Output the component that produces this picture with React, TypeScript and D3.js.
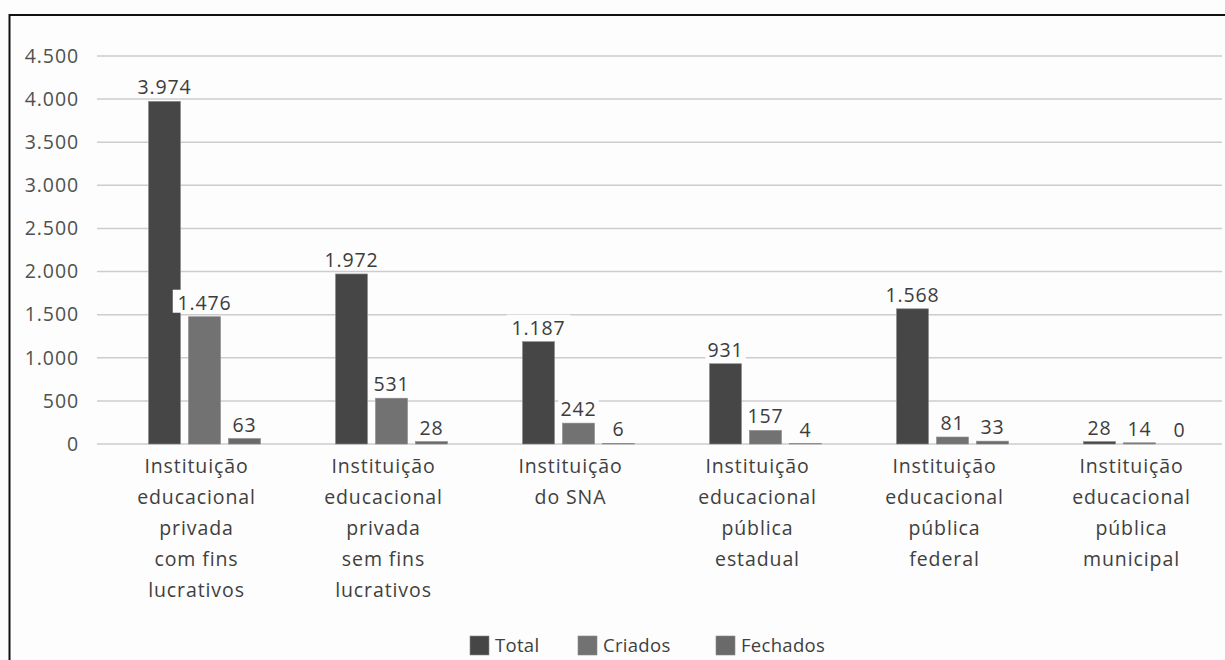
import { useEffect, useRef } from 'react'
import * as d3 from 'd3'

const categories = [
  ['Instituição', 'educacional', 'privada', 'com fins', 'lucrativos'],
  ['Instituição', 'educacional', 'privada', 'sem fins', 'lucrativos'],
  ['Instituição', 'do SNA'],
  ['Instituição', 'educacional', 'pública', 'estadual'],
  ['Instituição', 'educacional', 'pública', 'federal'],
  ['Instituição', 'educacional', 'pública', 'municipal'],
]
const seriesNames = ['Total', 'Criados', 'Fechados']
const total = [3974, 1972, 1187, 931, 1568, 28]
const criados = [1476, 531, 242, 157, 81, 14]
const fechados = [63, 28, 6, 4, 33, 0]
const yTicks = [0, 500, 1000, 1500, 2000, 2500, 3000, 3500, 4000, 4500]
const colors = ['#464646', '#727272', '#6a6a6a']

const W = 1225
const H = 660
const FONT = '"Open Sans", "Noto Sans", sans-serif'
const FS = '19.5px'
const LS = '0.9px'

export default function App() {
  const svgRef = useRef<SVGSVGElement>(null)

  useEffect(() => {
    if (!svgRef.current) return
    const svg = d3.select(svgRef.current)
    svg.selectAll('*').remove()

    const locale = d3.formatLocale({ decimal: ',', thousands: '.', grouping: [3], currency: ['R$', ''] })
    const fmt = locale.format(',d')

    const values = [total, criados, fechados]
    const keys = categories.map((_, i) => String(i))

    const x0 = d3.scaleBand().domain(keys).range([103, 1225])
    const x1 = d3.scaleBand().domain(seriesNames).range([-56, 56]).paddingInner(0.2)
    const y = d3.scaleLinear().domain([0, 4500]).range([444, 56])
    const barShift = 8

    const txt = (sel: any) =>
      sel.style('font-family', FONT).style('font-size', FS).style('letter-spacing', LS)

    svg.append('rect').attr('width', W).attr('height', H).attr('fill', '#fdfdfd')

    // frame
    svg.append('path')
      .attr('d', `M9.5,${H} V15 H${W}`)
      .attr('fill', 'none')
      .attr('stroke', '#111')
      .attr('stroke-width', 2)

    // grid
    svg.append('g')
      .selectAll('line')
      .data(yTicks)
      .enter()
      .append('line')
      .attr('x1', 97)
      .attr('x2', 1222)
      .attr('y1', d => y(d))
      .attr('y2', d => y(d))
      .attr('stroke', '#cdcdcd')
      .attr('stroke-width', 1.5)

    const yAxis = svg.append('g')
      .attr('transform', 'translate(79,0)')
      .call(d3.axisLeft(y).tickValues(yTicks).tickSize(0).tickPadding(0).tickFormat(d => fmt(d as number)))
    yAxis.select('.domain').remove()
    txt(yAxis.selectAll('text').attr('fill', '#505050'))

    // bars
    const groups = svg.append('g')
      .selectAll('g')
      .data(keys)
      .enter()
      .append('g')
      .attr('transform', d => `translate(${x0(d)! + x0.bandwidth() / 2 + barShift},0)`)

    seriesNames.forEach((s, si) => {
      groups.append('rect')
        .attr('x', x1(s)!)
        .attr('width', x1.bandwidth())
        .attr('y', (_, i) => y(values[si][i]))
        .attr('height', (_, i) => y(0) - y(values[si][i]))
        .attr('fill', colors[si])
        .attr('stroke', '#8a8a8a')
        .attr('stroke-width', 0.6)
    })

    seriesNames.forEach((s, si) => {
      const lab = groups.append('g')
        .attr('transform', (_, i) => `translate(${x1(s)! + x1.bandwidth() / 2},${y(values[si][i]) - 7})`)
      lab.append('rect')
        .attr('x', (_, i) => -(fmt(values[si][i]).length * 11.5 + 6) / 2)
        .attr('y', -20)
        .attr('width', (_, i) => fmt(values[si][i]).length * 11.5 + 6)
        .attr('height', 23)
        .attr('fill', '#fdfdfd')
      txt(lab.append('text')
        .attr('text-anchor', 'middle')
        .attr('fill', '#3c3c3c'))
        .text((_, i) => fmt(values[si][i]))
    })

    // category labels
    const cats = svg.append('g')
      .selectAll('text')
      .data(keys)
      .enter()
      .append('text')
      .attr('text-anchor', 'middle')
      .attr('fill', '#404040')
      .attr('transform', d => `translate(${x0(d)! + x0.bandwidth() / 2},473)`)
    txt(cats)
    cats.selectAll('tspan')
      .data(d => categories[+d])
      .enter()
      .append('tspan')
      .attr('x', 0)
      .attr('y', (_, j) => j * 31)
      .text(d => d)

    // legend
    const legendX = [470, 578, 716]
    const legend = svg.append('g')
      .selectAll('g')
      .data(seriesNames)
      .enter()
      .append('g')
      .attr('transform', (_, i) => `translate(${legendX[i]},636)`)
    legend.append('rect')
      .attr('width', 19)
      .attr('height', 19)
      .attr('fill', (_, i) => colors[i])
      .attr('stroke', '#8a8a8a')
      .attr('stroke-width', 0.6)
    txt(legend.append('text')
      .attr('x', 25)
      .attr('y', 16)
      .attr('fill', '#404040'))
      .style('font-size', '18.5px')
      .style('letter-spacing', '0.3px')
      .text(d => d)
  }, [])

  return (
    <svg
      ref={svgRef}
      width={W}
      height={H}
      style={{ position: 'absolute', left: 0, top: 0, display: 'block' }}
    />
  )
}
